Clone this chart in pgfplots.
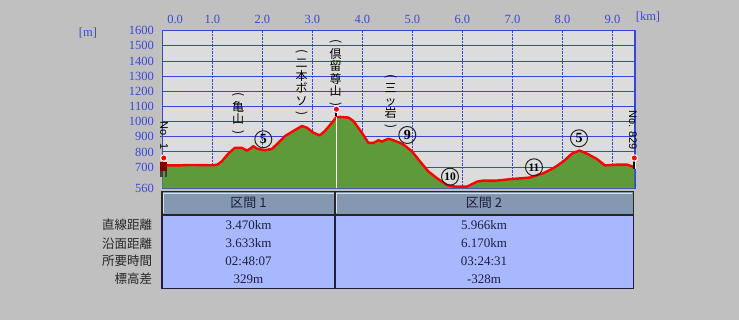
\documentclass[border=0pt]{standalone}
\usepackage{pgfplots}
\pgfplotsset{compat=1.18}
\usepackage{pgfplotstable}
\usepackage{fontspec}
\setmainfont{Liberation Serif}
\setsansfont{Liberation Sans}
\newfontfamily\jp{Noto Sans CJK JP}
\definecolor{bgout}{HTML}{C0C0C0}
\definecolor{bgplot}{HTML}{DCDCDC}
\definecolor{gridblue}{HTML}{3344E0}
\definecolor{tickblue}{HTML}{3A48D8}
\definecolor{fillgreen}{HTML}{5E9A3A}
\definecolor{hdr}{HTML}{8498B2}
\definecolor{tbody}{HTML}{A8B8FF}
\definecolor{txt}{HTML}{1E1E3C}
\pgfplotstableread{
x y
0.00 711
0.30 711
0.55 714
0.80 713
1.00 712
1.10 716
1.19 738
1.32 789
1.45 827
1.59 827
1.69 809
1.75 820
1.82 838
1.89 822
2.05 811
2.19 820
2.32 860
2.45 904
2.62 938
2.79 971
2.89 960
3.02 927
3.15 909
3.25 938
3.42 1004
3.48 1030
3.55 1031
3.72 1027
3.82 1004
3.99 927
4.12 860
4.22 860
4.32 877
4.39 869
4.52 887
4.62 877
4.75 860
4.82 849
4.99 804
5.15 738
5.32 671
5.49 627
5.69 582
5.85 571
6.09 571
6.29 604
6.42 611
6.69 611
6.95 620
7.35 631
7.62 660
7.82 693
8.02 738
8.19 789
8.34 809
8.49 789
8.69 753
8.85 711
9.09 716
9.29 716
9.436 700
}\prof
\newcommand{\vp}{\rotatebox[origin=c]{-90}{(}}
\newcommand{\vq}{\rotatebox[origin=c]{-90}{)}}
\begin{document}
\begin{tikzpicture}[x=1pt,y=1pt]
\fill[bgout] (0pt,0pt) rectangle (739pt,320pt);
\begin{axis}[at={(162.3pt,131.7pt)}, anchor=south west, scale only axis,
  width=472.7pt, height=157.6pt,
  xmin=0, xmax=9.45, ymin=560, ymax=1600, clip=false,
  axis background/.style={fill=bgplot},
  axis line style={gridblue, line width=1.4pt},
  major tick length=0pt,
  xtick={0,1,2,3,4,5,6,7,8,9},
  xticklabels={\makebox[0pt][l]{\hspace{5pt}0.0},1.0,2.0,3.0,4.0,5.0,6.0,7.0,8.0,9.0},
  xticklabel pos=upper,
  xticklabel style={text=tickblue, font=\fontsize{12.5}{13}\selectfont, yshift=3pt},
  ytick={560,700,800,900,1000,1100,1200,1300,1400,1500,1600},
  yticklabels={560,700,800,900,1000,1100,1200,1300,1400,1500,1600},
  yticklabel style={text=tickblue, font=\fontsize{12.5}{13}\selectfont, xshift=-5pt},
  xmajorgrids, ymajorgrids,
  x grid style={gridblue, densely dotted, line width=0.8pt},
  y grid style={gridblue, line width=0.9pt},
]
\addplot[draw=none, fill=fillgreen] table[x=x,y=y] {\prof} -- (axis cs:9.436,560) -- (axis cs:0,560) -- cycle;
\addplot[red, line width=2.4pt, line join=round] table[x=x,y=y] {\prof};
\addplot[white, line width=1.2pt] coordinates {(3.48,560) (3.48,1030)};
\addplot[draw=white, line width=3.6pt] coordinates {(3.48,1036) (3.48,1080)};
\addplot[black, line width=2.2pt] coordinates {(3.48,1036) (3.48,1080)};
\addplot[draw=white, line width=3.6pt] coordinates {(9.436,690) (9.436,758)};
\addplot[black, line width=2.2pt] coordinates {(9.436,690) (9.436,758)};
\addplot[only marks, mark=*, mark size=3.2pt, mark options={fill=red, draw=white, line width=1pt}] coordinates {(3.48,1082) (9.436,760) (0.03,760)};
\end{axis}
% hiker figure at start
\fill[red!50!black] (159.5pt,149pt) rectangle (167pt,158pt);
\fill[black!75] (160pt,143pt) rectangle (162.5pt,149pt);
\fill[black!75] (164.5pt,143pt) rectangle (167pt,149pt);
% axis unit labels
\node[text=tickblue, font=\fontsize{12.5}{13}\selectfont] at (88pt,287pt) {[m]};
\node[text=tickblue, font=\fontsize{12.5}{13}\selectfont] at (648pt,303pt) {[km]};
% vertical annotations
\begin{scope}[every node/.style={font=\jp\fontsize{12}{12.5}\selectfont, align=center, inner sep=0pt}]
\node at (238pt,205.5pt) {\vp\\亀\\山\\\vq};
\node at (301.7pt,236.5pt) {\vp\\二\\本\\ボ\\ソ\\\vq};
\node at (335.5pt,246pt) {\vp\\倶\\留\\尊\\山\\\vq};
\node at (390.5pt,217.5pt) {\vp\\三\\ッ\\岩\\\vq};
\end{scope}
\node[rotate=-90, font=\sffamily\fontsize{11}{12}\selectfont, inner sep=0pt] at (164pt,184.5pt) {No. 1};
\node[rotate=-90, font=\sffamily\fontsize{11}{12}\selectfont, inner sep=0pt] at (633pt,190pt) {No. 829};
% circled numbers
\begin{scope}[every node/.style={circle, draw=black!85, line width=1pt, minimum size=17pt, inner sep=0pt, font=\bfseries\fontsize{14}{14}\selectfont}]
\node at (263.3pt,180.7pt) {5};
\node at (407.3pt,185pt) {9};
\node[font=\bfseries\fontsize{11.5}{11.5}\selectfont] at (450pt,143.3pt) {10};
\node[font=\bfseries\fontsize{11.5}{11.5}\selectfont] at (534pt,152.7pt) {11};
\node at (579pt,181.7pt) {5};
\end{scope}
% table
\fill[tbody] (162pt,31.7pt) rectangle (633.3pt,105pt);
\draw[txt, line width=1.2pt] (162pt,31.7pt) rectangle (633.3pt,105pt);
\draw[txt, line width=1.2pt] (335pt,31.7pt) -- (335pt,105pt);
\fill[hdr] (162pt,105pt) rectangle (335pt,128.3pt);
\fill[hdr] (335pt,105pt) rectangle (633.3pt,128.3pt);
\draw[black!85, line width=1.4pt] (162pt,105pt) rectangle (335pt,128.3pt);
\draw[black!85, line width=1.4pt] (335pt,105pt) rectangle (633.3pt,128.3pt);
\draw[white!70!hdr, line width=0.8pt] (163.5pt,106.5pt) -- (163.5pt,126.8pt) -- (333.5pt,126.8pt);
\draw[white!70!hdr, line width=0.8pt] (336.5pt,106.5pt) -- (336.5pt,126.8pt) -- (631.8pt,126.8pt);
\node[font=\jp\fontsize{13}{14}\selectfont, text=txt] at (248.5pt,116.7pt) {区間 1};
\node[font=\jp\fontsize{13}{14}\selectfont, text=txt] at (484pt,116.7pt) {区間 2};
\begin{scope}[every node/.style={font=\jp\fontsize{12.5}{13}\selectfont, text=black!85, anchor=east, inner sep=0pt}]
\node at (152.3pt,95pt) {直線距離};
\node at (152.3pt,76.7pt) {沿面距離};
\node at (152.3pt,59pt) {所要時間};
\node at (152.3pt,41pt) {標高差};
\end{scope}
\begin{scope}[every node/.style={font=\fontsize{13}{14}\selectfont, text=txt, inner sep=0pt}]
\node at (248.5pt,95pt) {3.470km};
\node at (248.5pt,76.7pt) {3.633km};
\node at (248.5pt,59pt) {02:48:07};
\node at (248.5pt,41pt) {329m};
\node at (484pt,95pt) {5.966km};
\node at (484pt,76.7pt) {6.170km};
\node at (484pt,59pt) {03:24:31};
\node at (484pt,41pt) {-328m};
\end{scope}
\end{tikzpicture}
\end{document}
